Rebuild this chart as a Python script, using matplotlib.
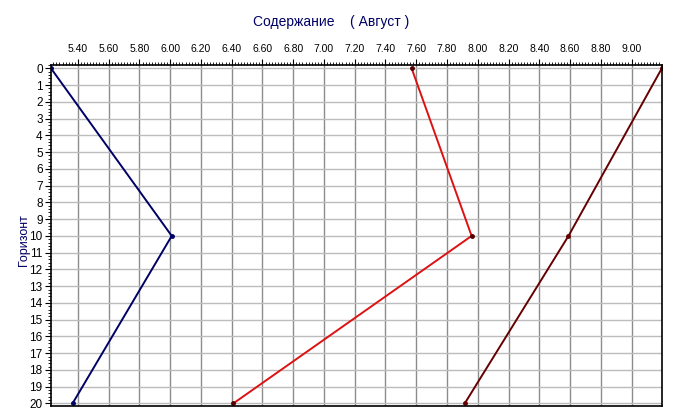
import numpy as np
import matplotlib.pyplot as plt
from matplotlib.ticker import MultipleLocator, FormatStrFormatter

plt.rcParams['font.family'] = ['Liberation Sans', 'DejaVu Sans']

# horizon depth levels
depth = [0, 10, 20]
# content values per series
s_navy = [5.225, 6.01, 5.365]
s_red = [7.57, 7.96, 6.41]
s_dark = [9.197, 8.59, 7.915]

fig = plt.figure(figsize=(6.75, 4.19), dpi=100)
ax = fig.add_axes([51/675, 1-406/419, (662-51)/675, (406-65)/419])

ax.plot(s_navy, depth, color='#000066', lw=1.4, marker='o', ms=2.5)
ax.plot(s_red, depth, color='#dd1111', lw=1.4, marker='o', ms=2.5, mfc='#550000', mec='#550000')
ax.plot(s_dark, depth, color='#660000', lw=1.4, marker='o', ms=2.5)

ax.set_xlim(5.225, 9.198)
ax.set_ylim(20.15, -0.2)

ax.xaxis.tick_top()
ax.xaxis.set_major_locator(MultipleLocator(0.2))
ax.xaxis.set_minor_locator(MultipleLocator(0.02))
ax.xaxis.set_major_formatter(FormatStrFormatter('%.2f'))
ax.yaxis.set_major_locator(MultipleLocator(1))
ax.yaxis.set_minor_locator(MultipleLocator(0.2))

ax.tick_params(axis='both', which='major', length=4, width=0.8, pad=2, color='black')
ax.tick_params(axis='x', which='major', labelsize=7.5, pad=4)
ax.tick_params(axis='y', which='major', labelsize=8.5)
ax.tick_params(axis='both', which='minor', length=2, width=0.6)

ax.xaxis.grid(True, which='major', color='#8c8c8c', lw=1)
ax.yaxis.grid(True, which='major', color='#bcbcbc', lw=1)
ax.set_axisbelow(True)
for sp in ax.spines.values():
    sp.set_color('black')
    sp.set_linewidth(1.2)

ax.set_ylabel('Горизонт', color='#000066', fontsize=9)
ax.yaxis.set_label_coords(-0.034, 0.487)
fig.text(0.49, 1-22/419, 'Содержание    ( Август )', color='#000066', fontsize=10, ha='center', va='center')

fig.savefig('out.png', dpi=100)
